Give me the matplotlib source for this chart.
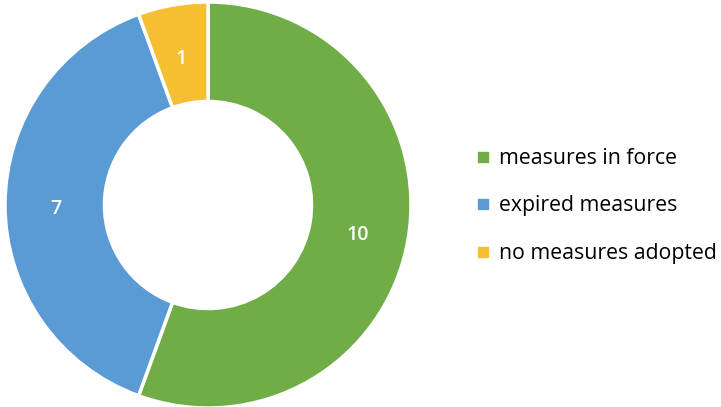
import matplotlib.pyplot as plt
from matplotlib.lines import Line2D

labels = ['measures in force', 'expired measures', 'no measures adopted']
counts = [10, 7, 1]
colors = ['#70AD47', '#5B9BD5', '#F6BE31']

plt.rcParams['font.family'] = ['Open Sans', 'DejaVu Sans']

W, H = 721, 407
fig = plt.figure(figsize=(W / 100, H / 100), dpi=100, facecolor='white')

# donut centred at (208, 205) px, outer radius 203 px
cx, cy, r = 208, 205, 203
ax = fig.add_axes([(cx - r) / W, (H - cy - r) / H, 2 * r / W, 2 * r / H])
wedges, texts = ax.pie(counts, colors=colors, startangle=90, counterclock=False,
                       radius=1, labels=[str(c) for c in counts], labeldistance=0.75,
                       wedgeprops=dict(width=0.49, edgecolor='white', linewidth=2.5),
                       textprops=dict(color='white', fontsize=14, fontweight='semibold'))
for t in texts:
    t.set_ha('center')
    t.set_va('center')
    x, y = t.get_position()
    t.set_position((x, y - 0.02))
ax.set_xlim(-1, 1)
ax.set_ylim(-1, 1)
ax.set_aspect('equal')
ax.axis('off')

handles = [Line2D([], [], marker='s', linestyle='none', markersize=7,
                  markerfacecolor=c, markeredgecolor=c) for c in colors]
fig.legend(handles, labels, loc='center left', bbox_to_anchor=(478 / W, 1 - 206 / H),
           frameon=False, fontsize=15.3, handlelength=0.5, handletextpad=0.5,
           labelspacing=1.25, borderpad=0, borderaxespad=0)

fig.savefig('out.png', dpi=100)
